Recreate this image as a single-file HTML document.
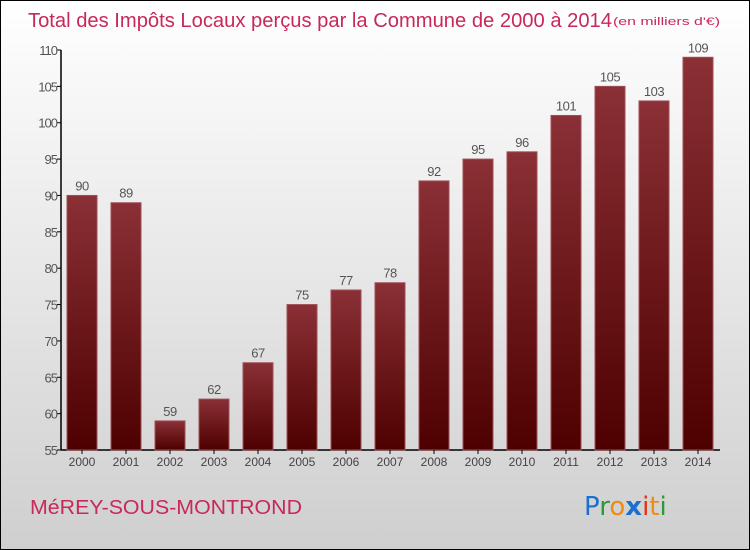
<!DOCTYPE html>
<html><head><meta charset="utf-8"><style>
html,body{margin:0;padding:0}
body{width:750px;height:550px;overflow:hidden;font-family:"Liberation Sans",sans-serif}
#wrap{position:absolute;left:0;top:0;width:748px;height:548px;border:1px solid #000;background:linear-gradient(#ffffff,#cfcfcf)}
</style></head><body>
<div id="wrap">
<svg id="chart" width="750" height="550" style="position:absolute;left:-1px;top:-1px">
<defs><linearGradient id="bg" x1="0" y1="0" x2="0" y2="1"><stop offset="0" stop-color="#8a3036"/><stop offset="1" stop-color="#4e0000"/></linearGradient></defs>
<text x="28" y="27" font-size="20" fill="#c8285a" textLength="584" lengthAdjust="spacingAndGlyphs">Total des Impôts Locaux perçus par la Commune de 2000 à 2014</text>
<text x="613" y="25" font-size="11" fill="#c8285a" textLength="107" lengthAdjust="spacingAndGlyphs">(en milliers d'€)</text>
<text x="30" y="514" font-size="20" fill="#c8285a" textLength="272" lengthAdjust="spacingAndGlyphs">MéREY-SOUS-MONTROND</text>
<text x="584" y="515" font-size="26" font-family="'DejaVu Sans',sans-serif"><tspan fill="#1a6fd0">P</tspan><tspan fill="#2a9a3a">r</tspan><tspan fill="#f08a10">o</tspan><tspan fill="#1a6fd0" font-weight="bold">x</tspan><tspan fill="#e83010">i</tspan><tspan fill="#f08a10">t</tspan><tspan fill="#2a9a3a">i</tspan></text>
<g id="plot"></g>
</svg></div>
<script>
const years=["2000","2001","2002","2003","2004","2005","2006","2007","2008","2009","2010","2011","2012","2013","2014"];
const values=[90,89,59,62,67,75,77,78,92,95,96,101,105,103,109];
const yTicks=[55,60,65,70,75,80,85,90,95,100,105,110];
const NS="http://www.w3.org/2000/svg";
const g=document.getElementById('plot');
const y=v=>450-(v-55)*(400/55);
const x=i=>82+i*44;
function mk(t,a){const e=document.createElementNS(NS,t);for(const k in a)e.setAttribute(k,a[k]);g.appendChild(e);return e;}
let ax=mk('line',{x1:61,y1:50,x2:61,y2:450,stroke:'#000','stroke-width':1.5});


let bx=mk('line',{x1:61,y1:450,x2:720,y2:450,stroke:'#000','stroke-width':1.5});


yTicks.forEach(v=>{
  const tk=mk('line',{x1:57,y1:y(v),x2:61,y2:y(v),stroke:'#000'});
  
  
  const t=mk('text',{x:57,y:y(v)+5,'text-anchor':'end','font-size':13,fill:'#555','letter-spacing':'-1'});
  t.textContent=v;
  
  
});
years.forEach((yr,i)=>{
  const v=values[i];
  const r=mk('rect',{x:x(i)-15,y:y(v),width:30,height:450-y(v),fill:'url(#bg)',stroke:'#a05058','stroke-width':1});
  
  
  const l=mk('text',{x:x(i),y:y(v)-5,'text-anchor':'middle','font-size':13,fill:'#555','letter-spacing':'-0.5'});
  l.textContent=v;
  
  
  const tk=mk('line',{x1:x(i),y1:450,x2:x(i),y2:454,stroke:'#000'});
  
  
  const t=mk('text',{x:x(i),y:466,'text-anchor':'middle','font-size':12,fill:'#444'});
  t.textContent=yr;
  
  
});
</script>
</body></html>
